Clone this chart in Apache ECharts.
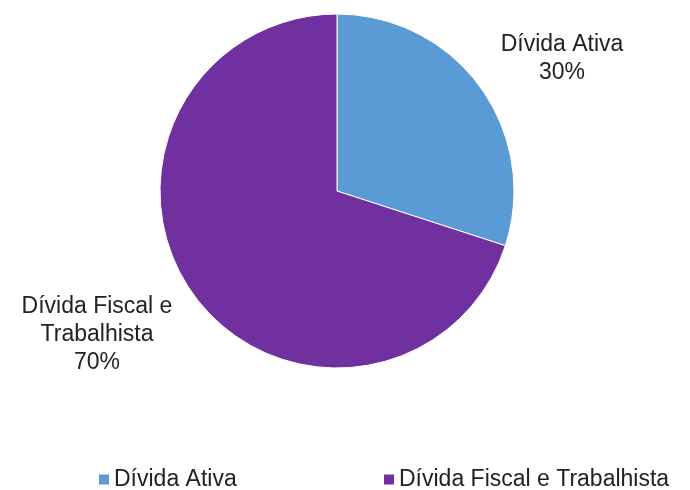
<!DOCTYPE html>
<html>
<head>
<meta charset="utf-8">
<script src="https://cdn.jsdelivr.net/npm/echarts@6/dist/echarts.min.js"></script>
<style>
  html, body { margin: 0; padding: 0; background: #fff; }
  #chart { width: 690px; height: 490px; }
</style>
</head>
<body>
<div id="chart"></div>
<script>
var categories = ['Dívida Ativa', 'Dívida Fiscal e Trabalhista'];
var values = [30, 70];
var labelTexts = ['Dívida Ativa\n30%', 'Dívida Fiscal e\nTrabalhista\n70%'];
var colors = ['#5B9BD5', '#7030A0'];

(function () {
    var chartDom = document.getElementById('chart');
    var myChart = echarts.init(chartDom);
    var labelPos = [[562, 59], [97, 335]];
    var legendLeft = [92, 377];

    // one legend per item so each sits where the reference has it
    var legends = categories.map(function (c, i) {
        return {
            top: 463,
            left: legendLeft[i],
            itemWidth: 12,
            itemHeight: 12,
            itemGap: 0,
            icon: 'rect',
            textStyle: { fontSize: 23, color: '#222', padding: [0, 0, 0, -1] },
            data: [c]
        };
    });

    var option = {
        animation: false,
        textStyle: { fontFamily: 'Liberation Sans, Arial, sans-serif' },
        legend: legends,
        series: [{
            type: 'pie',
            center: [337, 191],
            radius: [0, 177],
            startAngle: 90,
            clockwise: true,
            itemStyle: {
                borderColor: '#fff',
                borderWidth: 1
            },
            label: {
                show: true,
                position: 'outside',
                fontSize: 23,
                lineHeight: 28,
                color: '#222',
                align: 'center',
                overflow: 'none',
                formatter: function (p) { return labelTexts[p.dataIndex]; }
            },
            labelLine: { show: false },
            labelLayout: function (params) {
                var p = labelPos[params.dataIndex];
                return { x: p[0], y: p[1], align: 'center', verticalAlign: 'middle', width: 220 };
            },
            data: categories.map(function (c, i) {
                return { name: c, value: values[i], itemStyle: { color: colors[i] } };
            })
        }]
    };

    myChart.setOption(option);
    window.addEventListener('resize', function () {
        myChart.resize();
    });
})();
</script>
</body>
</html>
